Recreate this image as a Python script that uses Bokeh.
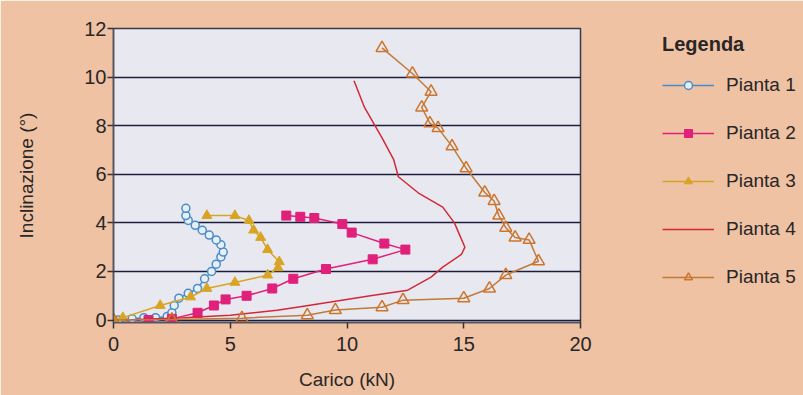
from bokeh.plotting import figure
from bokeh.models import Legend, LegendItem, Range1d, FixedTicker
from bokeh.embed import file_html
from bokeh.resources import INLINE

# Pianta 1
p1_x = [0.2, 0.8, 1.3, 1.8, 2.3, 2.5, 2.6, 2.8, 3.2, 3.6, 3.9, 4.2, 4.4, 4.6, 4.7, 4.6, 4.4, 4.1, 3.8, 3.5, 3.2, 3.1, 3.1]
p1_y = [0.0, 0.05, 0.1, 0.1, 0.15, 0.3, 0.6, 0.9, 1.1, 1.3, 1.7, 2.0, 2.3, 2.6, 2.8, 3.1, 3.3, 3.5, 3.7, 3.9, 4.1, 4.3, 4.6]
# Pianta 2
p2_x = [1.5, 2.5, 3.6, 4.3, 4.8, 5.7, 6.8, 7.7, 9.1, 11.1, 12.5, 11.6, 10.2, 9.8, 8.6, 8.0, 7.4]
p2_y = [0.0, 0.05, 0.3, 0.6, 0.85, 1.0, 1.3, 1.7, 2.1, 2.5, 2.9, 3.15, 3.6, 3.95, 4.2, 4.25, 4.3]
# Pianta 3
p3_x = [0.0, 0.4, 2.0, 3.3, 4.0, 5.2, 6.6, 7.05, 7.1, 6.6, 6.3, 6.0, 5.8, 5.2, 4.0]
p3_y = [0.05, 0.1, 0.6, 0.95, 1.3, 1.55, 1.85, 2.15, 2.4, 2.9, 3.4, 3.7, 4.1, 4.3, 4.3]
# Pianta 4
p4_x = [0.5, 3.0, 5.0, 7.0, 8.0, 9.3, 11.0, 12.6, 13.6, 14.1, 14.9, 15.05, 14.6, 14.1, 13.1, 12.2, 12.0, 11.5, 10.75, 10.3]
p4_y = [0.0, 0.1, 0.2, 0.4, 0.55, 0.74, 1.0, 1.23, 1.77, 2.18, 2.7, 3.0, 4.0, 4.65, 5.2, 5.9, 6.6, 7.5, 8.75, 9.85]
# Pianta 5
p5_x = [0.0, 2.5, 5.5, 8.3, 9.5, 11.5, 12.4, 15.0, 16.1, 16.8, 18.2, 17.8, 17.2, 16.8, 16.5, 16.3, 15.9, 15.1, 14.5, 13.9, 13.55, 13.2, 13.6, 12.8, 11.5]
p5_y = [0.0, 0.02, 0.08, 0.2, 0.41, 0.53, 0.82, 0.9, 1.3, 1.85, 2.42, 3.3, 3.4, 3.8, 4.3, 4.9, 5.25, 6.25, 7.15, 7.9, 8.1, 8.75, 9.4, 10.15, 11.2]

x_ticks = [0, 5, 10, 15, 20]
y_ticks = [0, 2, 4, 6, 8, 10, 12]

FONT = "Liberation Sans"
TXT = "#2a2626"

p = figure(frame_width=467, frame_height=294,
           min_border_left=113, min_border_right=223, min_border_top=28, min_border_bottom=73,
           x_range=Range1d(0, 20), y_range=Range1d(-0.1, 12),
           output_backend="svg", toolbar_location=None)

p.border_fill_color = "#efc2a4"
p.background_fill_color = "#e8e9f0"
p.outline_line_color = "#3a3a4a"
p.outline_line_width = 1.5

p.xgrid.visible = False
p.ygrid.ticker = FixedTicker(ticks=y_ticks)
p.ygrid.grid_line_color = "#1c1c3c"
p.ygrid.grid_line_width = 1.5

p.xaxis.ticker = FixedTicker(ticks=x_ticks)
p.yaxis.ticker = FixedTicker(ticks=y_ticks)
for ax in (p.xaxis[0], p.yaxis[0]):
    ax.axis_line_color = "#555560"
    ax.axis_line_width = 1.5
    ax.major_tick_line_color = "#3a3030"
    ax.major_tick_line_width = 1.5
    ax.minor_tick_line_color = None
    ax.major_tick_in = 0
    ax.major_tick_out = 6
    ax.major_label_text_font = FONT
    ax.major_label_text_font_size = "20px"
    ax.major_label_text_color = TXT
    ax.axis_label_text_font = FONT
    ax.axis_label_text_font_size = "19px"
    ax.axis_label_text_font_style = "normal"
    ax.axis_label_text_color = TXT

p.xaxis.axis_label = "Carico (kN)"
p.yaxis.axis_label = "Inclinazione (°)"
p.xaxis.major_label_standoff = 8
p.yaxis.major_label_standoff = 1
p.xaxis.axis_label_standoff = 15
p.yaxis.axis_label_standoff = 44

c1, c2, c3, c4, c5 = "#4a8cc8", "#e0207a", "#d8a424", "#d42838", "#d0742c"

l1 = p.line(p1_x, p1_y, line_color=c1, line_width=1.5)
s1 = p.scatter(p1_x, p1_y, marker="circle", size=8, line_color=c1, line_width=1.5, fill_color="#e6eef6")
l2 = p.line(p2_x, p2_y, line_color=c2, line_width=1.5)
s2 = p.scatter(p2_x, p2_y, marker="square", size=9, line_color=c2, fill_color=c2)
l3 = p.line(p3_x, p3_y, line_color=c3, line_width=1.5)
s3 = p.scatter(p3_x, p3_y, marker="triangle", size=10, line_color=c3, fill_color=c3)
l4 = p.line(p4_x, p4_y, line_color=c4, line_width=1.5)
l5 = p.line(p5_x, p5_y, line_color="#c07a3a", line_width=1.5)
s5 = p.scatter(p5_x, p5_y, marker="triangle", size=12, line_color=c5, line_width=1.5, fill_color=None)

legend = Legend(items=[
    LegendItem(label="Pianta 1", renderers=[l1, s1]),
    LegendItem(label="Pianta 2", renderers=[l2, s2]),
    LegendItem(label="Pianta 3", renderers=[l3, s3]),
    LegendItem(label="Pianta 4", renderers=[l4]),
    LegendItem(label="Pianta 5", renderers=[l5, s5]),
], location=(82, 34))
legend.title = "Legenda"
legend.title_text_font = FONT
legend.title_text_font_style = "bold"
legend.title_text_font_size = "20px"
legend.title_text_color = TXT
legend.title_standoff = 18
legend.label_text_font = FONT
legend.label_text_font_size = "19px"
legend.label_text_color = TXT
legend.glyph_width = 52
legend.glyph_height = 20
legend.label_height = 20
legend.spacing = 26
legend.label_standoff = 12
legend.padding = 0
legend.margin = 0
legend.border_line_color = None
legend.background_fill_alpha = 0
p.add_layout(legend, "right")

open("out.html", "w").write(file_html(p, INLINE))
